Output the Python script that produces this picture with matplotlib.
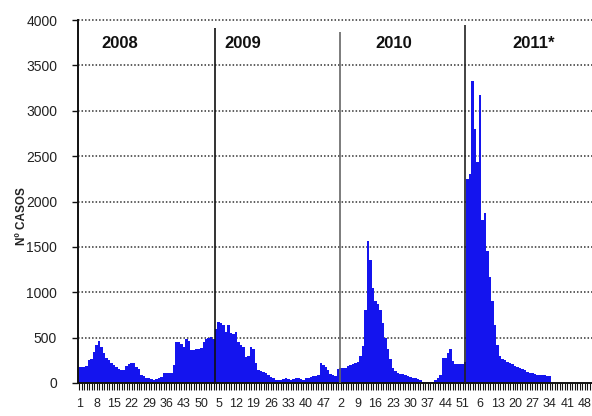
import matplotlib
matplotlib.use('Agg')
import matplotlib.pyplot as plt
import numpy as np

# ---- data (weekly cases) ----
cases_2008 = [180, 180, 180, 190, 250, 260, 340, 420, 460, 400, 330, 270, 250,
              220, 200, 175, 150, 145, 145, 190, 205, 215, 215, 180, 150, 90,
              80, 55, 50, 45, 35, 40, 60, 70, 110, 115, 110, 110, 200, 450,
              450, 430, 400, 490, 460, 360, 365, 370, 375, 390, 450, 490]
cases_2009 = [500, 505, 480, 600, 670, 660, 640, 560, 640, 550, 545, 565, 450,
              420, 400, 290, 300, 400, 370, 220, 140, 130, 125, 110, 90, 70,
              50, 35, 30, 35, 45, 50, 40, 35, 40, 50, 55, 40, 35, 50,
              60, 70, 75, 80, 90, 215, 200, 180, 140, 100, 90, 80]
cases_2010 = [150, 160, 160, 170, 190, 200, 210, 220, 235, 300, 410, 800, 1570,
              1350, 1050, 900, 870, 800, 660, 500, 370, 260, 170, 130, 110, 100,
              95, 90, 80, 65, 60, 55, 40, 30, 15, 15, 15, 15, 15, 30,
              50, 90, 270, 270, 330, 380, 240, 210, 210, 210, 210, 235]
cases_2011 = [2250, 2300, 3330, 2800, 2430, 3170, 1800, 1870, 1460, 1170, 900,
              640, 420, 300, 260, 250, 230, 215, 210, 190, 180, 165, 150, 140,
              125, 115, 110, 95, 90, 90, 85, 85, 80, 75]
year_labels = ['2008', '2009', '2010', '2011*']
weeks_per_year = 52
n_years = 4
y_ticks = [0, 500, 1000, 1500, 2000, 2500, 3000, 3500, 4000]
y_label = 'Nº CASOS'

values = cases_2008 + cases_2009 + cases_2010 + cases_2011
x = np.arange(len(values)) + 0.5

W, H = 592, 416
px_per_week = 2.49
fig = plt.figure(figsize=(W / 100, H / 100), dpi=100)
ax = fig.add_axes([78 / W, 33 / H, (W - 78) / W, 363 / H])
xmax = (W - 78) / px_per_week
ax.set_xlim(0, xmax)
ax.set_ylim(0, 4000)

# grid
for v in y_ticks[1:]:
    ax.axhline(v, color='#333333', lw=1.1, ls=(0, (1, 1.3)), zorder=0.5,
               clip_on=False)

ax.bar(x, values, width=1.0, color='#1414EE', linewidth=0, zorder=2)

# year dividers
divider_pos = [55.0, 105.2, 155.4]
divider_top = [3910, 3870, 3945]
divider_col = ['#111111', '#666666', '#222222']
for p, t, c in zip(divider_pos, divider_top, divider_col):
    ax.vlines(p, 0, t, color=c, lw=1.2, zorder=3)

# year labels
year_label_pos = [16.9, 66.0, 127.0, 183.0]
for lab, p in zip(year_labels, year_label_pos):
    ax.text(p, 3745, lab, ha='center', va='center', fontsize=12,
            fontweight='bold', color='#111111',
            family=['Liberation Sans Narrow', 'Liberation Sans'])

# axes styling
for s in ['top', 'right']:
    ax.spines[s].set_visible(False)
ax.spines['left'].set_linewidth(1.4)
ax.spines['bottom'].set_linewidth(1.4)
ax.spines['left'].set_color('#111111')
ax.spines['bottom'].set_color('#111111')

ax.set_yticks(y_ticks)
ax.set_yticklabels([str(v) for v in y_ticks], fontsize=10,
                   family=['Liberation Sans'], color='#222222')
ax.tick_params(axis='y', length=4, width=1, pad=11, color='#111111')

all_weeks = [(i % weeks_per_year) + 1 for i in range(int(xmax) + 1)]
major_idx = [i for i in range(len(all_weeks)) if i % 7 == 0]
ax.set_xticks([i + 0.5 for i in major_idx])
ax.set_xticklabels([str(all_weeks[i]) for i in major_idx], fontsize=9,
                   family=['Liberation Sans Narrow', 'Liberation Sans'],
                   color='#222222')
ax.set_xticks([i + 0.5 for i in range(int(xmax))], minor=True)
ax.tick_params(axis='x', which='both', length=5, width=0.8, pad=6,
               color='#111111')

fig.text(22 / W, 1 - 216 / H, y_label, rotation=90, ha='center', va='center',
         fontsize=8.5, fontweight='bold', color='#222222',
         family=['Liberation Sans'])

fig.savefig('out.png', dpi=100)
